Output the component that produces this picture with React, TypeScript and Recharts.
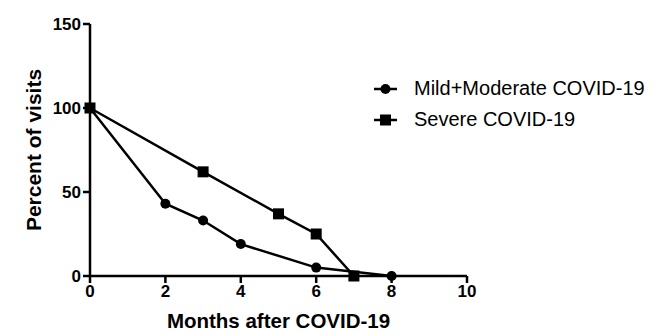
import { LineChart, Line, XAxis, YAxis, Legend } from 'recharts'

const months = [0, 2, 4, 6, 8, 10]
const percentTicks = [0, 50, 100, 150]

const mildMonths = [0, 2, 3, 4, 6, 8]
const mildValues = [100, 43, 33, 19, 5, 0]

const severeMonths = [0, 3, 5, 6, 7]
const severeValues = [100, 62, 37, 25, 0]

const mildData = mildMonths.map((m, i) => ({ month: m, value: mildValues[i] }))
const severeData = severeMonths.map((m, i) => ({ month: m, value: severeValues[i] }))

const font = '"Liberation Sans", Arial, sans-serif'

function SquareDot(props: any) {
  const { cx, cy } = props
  if (cx == null || cy == null) return null
  return <rect x={cx - 5.5} y={cy - 5.5} width={11} height={11} fill="#000" />
}

function LegendBox() {
  const rows = [
    { name: 'Mild+Moderate COVID-19', shape: 'circle' },
    { name: 'Severe COVID-19', shape: 'square' },
  ]
  return (
    <div style={{ fontFamily: font, fontSize: 20, color: '#000' }}>
      {rows.map((r) => (
        <div key={r.name} style={{ display: 'flex', alignItems: 'center', height: 31 }}>
          <svg width={40} height={14}>
            <line x1={2} y1={7} x2={25} y2={7} stroke="#000" strokeWidth={2.5} />
            {r.shape === 'circle' ? (
              <circle cx={13.5} cy={7} r={5} fill="#000" />
            ) : (
              <rect x={8} y={1.5} width={11} height={11} fill="#000" />
            )}
          </svg>
          <span style={{ marginLeft: 2 }}>{r.name}</span>
        </div>
      ))}
    </div>
  )
}

export default function App() {
  return (
    <div style={{ position: 'absolute', left: 0, top: 0, background: '#fff' }}>
      <LineChart width={669} height={334} margin={{ top: 24, right: 202, bottom: 0, left: 0 }}>
        <XAxis
          type="number"
          dataKey="month"
          domain={[0, 10]}
          ticks={months}
          allowDuplicatedCategory={false}
          height={58}
          axisLine={{ stroke: '#000', strokeWidth: 2.5 }}
          tickLine={{ stroke: '#000', strokeWidth: 2.5 }}
          tickSize={7}
          tick={{ fill: '#000', fontSize: 17, fontWeight: 'bold', fontFamily: font }}
          label={{
            value: 'Months after COVID-19',
            position: 'insideBottom',
            offset: 6,
            fill: '#000',
            fontSize: 20.5,
            fontWeight: 'bold',
            fontFamily: font,
          }}
        />
        <YAxis
          type="number"
          dataKey="value"
          domain={[0, 150]}
          ticks={percentTicks}
          width={90}
          axisLine={{ stroke: '#000', strokeWidth: 2.5 }}
          tickLine={{ stroke: '#000', strokeWidth: 2.5 }}
          tickSize={7}
          tick={{ fill: '#000', fontSize: 17, fontWeight: 'bold', fontFamily: font }}
          label={{
            value: 'Percent of visits',
            angle: -90,
            position: 'insideLeft',
            offset: 34,
            style: { textAnchor: 'middle' },
            fill: '#000',
            fontSize: 21,
            fontWeight: 'bold',
            fontFamily: font,
          }}
        />
        <Legend
          content={<LegendBox />}
          wrapperStyle={{ left: 372, top: 73, width: 300, height: 0, overflow: 'visible' }}
        />
        <Line
          data={mildData}
          dataKey="value"
          name="Mild+Moderate COVID-19"
          stroke="#000"
          strokeWidth={2.5}
          dot={{ r: 5, fill: '#000', stroke: '#000', strokeWidth: 0 }}
          isAnimationActive={false}
        />
        <Line
          data={severeData}
          dataKey="value"
          name="Severe COVID-19"
          stroke="#000"
          strokeWidth={2.5}
          dot={<SquareDot />}
          isAnimationActive={false}
        />
      </LineChart>
    </div>
  )
}
